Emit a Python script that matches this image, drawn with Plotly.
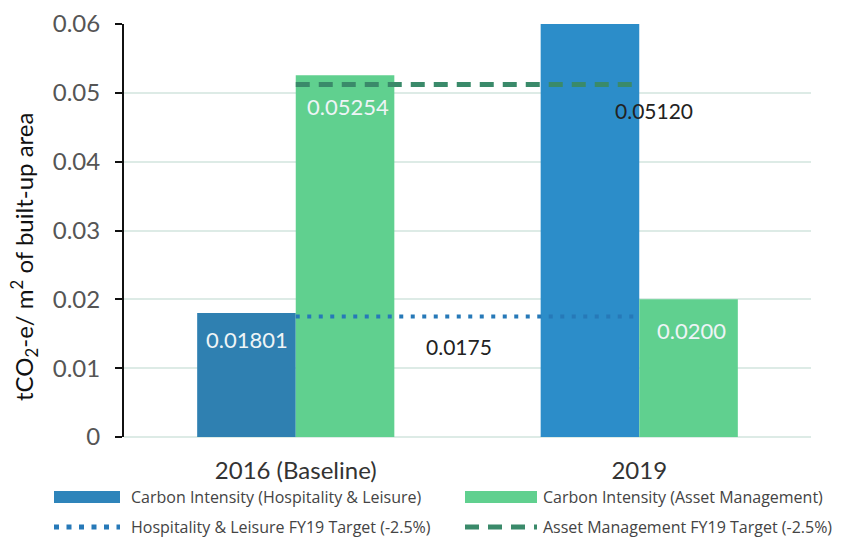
import plotly.graph_objects as go

# Data
categories = ["2016 (Baseline)", "2019"]
hospitality = [0.01801, 0.0600]
asset_mgmt = [0.05254, 0.0200]
hospitality_decimals = [5, None]   # None: no value label drawn
asset_decimals = [5, 4]
hosp_target = 0.0175
asset_target = 0.05120
y_ticks = [0, 0.01, 0.02, 0.03, 0.04, 0.05, 0.06]
y_tick_labels = ["0", "0.01", "0.02", "0.03", "0.04", "0.05", "0.06"]

series_names = [
    "Carbon Intensity (Hospitality & Leisure)",
    "Carbon Intensity (Asset Management)",
    "Hospitality & Leisure FY19 Target (-2.5%)",
    "Asset Management FY19 Target (-2.5%)",
]

BLUE_BARS = ["#2F80B1", "#2C8DC9"]
BLUE = "#2E84BA"
GREEN = "#60D08F"
DOT_BLUE = "#2679B8"
DASH_GREEN = "#3A8A6A"
FONT = "Lato"
LEGEND_FONT = "Open Sans"
DOT_DASH = "4px,7.5px"
LONG_DASH = "14px,9px"

W, H = 843, 540
ML, MR, MT, MB = 124, 32, 24, 103
PW, PH = W - ML - MR, H - MT - MB

# category slots on a numeric axis
pos = list(range(len(categories)))


def px_x(x):
    return (x - ML) / PW


def px_y(y):
    return (H - MB - y) / PH


fig = go.Figure()
fig.add_trace(go.Bar(x=pos, y=hospitality, marker_color=BLUE_BARS,
                     marker_line_width=0, name=series_names[0]))
fig.add_trace(go.Bar(x=pos, y=asset_mgmt, marker_color=GREEN,
                     marker_line_width=0, name=series_names[1]))
fig.add_trace(go.Scatter(x=pos, y=[hosp_target] * 2, mode="lines",
                         line=dict(color=DOT_BLUE, width=4, dash=DOT_DASH),
                         name=series_names[2]))
fig.add_trace(go.Scatter(x=pos, y=[asset_target] * 2, mode="lines",
                         line=dict(color=DASH_GREEN, width=5, dash=LONG_DASH),
                         name=series_names[3]))

# value labels inside bars
annotations = []
label_font = dict(family=FONT, size=22, color="#EEF4F6")
for i in pos:
    d = hospitality_decimals[i]
    if d is not None:
        annotations.append(dict(x=i, y=hospitality[i], xref="x", yref="y",
                                text=f"{hospitality[i]:.{d}f}", showarrow=False,
                                xshift=-49, yshift=-26, font=label_font))
    d = asset_decimals[i]
    annotations.append(dict(x=i, y=asset_mgmt[i], xref="x", yref="y",
                            text=f"{asset_mgmt[i]:.{d}f}", showarrow=False,
                            xshift=52, yshift=-31, font=label_font))

# target labels
annotations.append(dict(x=0.5, y=hosp_target, xref="x", yref="y",
                        text=f"{hosp_target:.4f}", showarrow=False,
                        xshift=-9, yshift=-30,
                        font=dict(family=FONT, size=21, color="#222222")))
annotations.append(dict(x=pos[1], y=asset_target, xref="x", yref="y",
                        text=f"{asset_target:.5f}", showarrow=False,
                        xshift=15, yshift=-26,
                        font=dict(family=FONT, size=21, color="#222222")))

# y-axis title
annotations.append(dict(x=px_x(24), y=px_y(257), xref="paper", yref="paper",
                        xanchor="center", yanchor="middle",
                        text="tCO<sub>2</sub>-e/ m<sup>2</sup> of built-up area",
                        textangle=-90, showarrow=False,
                        font=dict(family=FONT, size=24, color="#111111")))

# legend drawn below the plot
shapes = []
leg_rows = [497, 527]
leg_cols = [(54, 120, 129), (465, 537, 541)]
legend_items = [
    (0, 0, "bar", BLUE),
    (0, 1, "bar", GREEN),
    (1, 0, "dot", DOT_BLUE),
    (1, 1, "dash", DASH_GREEN),
]
for k, (r, c, kind, col) in enumerate(legend_items):
    x0, x1, xt = leg_cols[c]
    yc = leg_rows[r]
    if kind == "bar":
        shapes.append(dict(type="rect", xref="paper", yref="paper",
                           x0=px_x(x0), x1=px_x(x1),
                           y0=px_y(yc + 6), y1=px_y(yc - 6),
                           fillcolor=col, line_width=0))
    else:
        shapes.append(dict(type="line", xref="paper", yref="paper",
                           x0=px_x(x0), x1=px_x(x1), y0=px_y(yc), y1=px_y(yc),
                           line=dict(color=col, width=5,
                                     dash="5px,7.5px" if kind == "dot" else LONG_DASH)))
    annotations.append(dict(x=px_x(xt), y=px_y(yc), xref="paper", yref="paper",
                            xanchor="left", yanchor="middle", showarrow=False,
                            text=series_names[k],
                            font=dict(family=LEGEND_FONT, size=16, color="#444444")))

fig.update_layout(
    width=W, height=H,
    margin=dict(l=ML, r=MR, t=MT, b=MB),
    paper_bgcolor="white", plot_bgcolor="white",
    barmode="group", bargap=0.426, bargroupgap=0,
    showlegend=False,
    annotations=annotations, shapes=shapes,
    font=dict(family=FONT),
)
fig.update_xaxes(type="linear", range=[-0.5, len(categories) - 0.5],
                 tickvals=pos, ticktext=categories, automargin=False,
                 showline=False, showgrid=False, zeroline=False, ticks="",
                 tickfont=dict(family=FONT, size=24, color="#333333"),
                 ticklabelstandoff=17)
fig.update_yaxes(range=[0, 0.06], tickvals=y_ticks, ticktext=y_tick_labels,
                 automargin=False,
                 showline=True, linecolor="#111111", linewidth=2,
                 ticks="outside", ticklen=7, tickcolor="#111111", tickwidth=2,
                 showgrid=True, gridcolor="#DDEBE6", gridwidth=1.5,
                 zeroline=True, zerolinecolor="#DDEBE6", zerolinewidth=1.5,
                 tickfont=dict(family=FONT, size=24, color="#555555"),
                 ticklabelstandoff=10)

fig.write_html("out.html")
